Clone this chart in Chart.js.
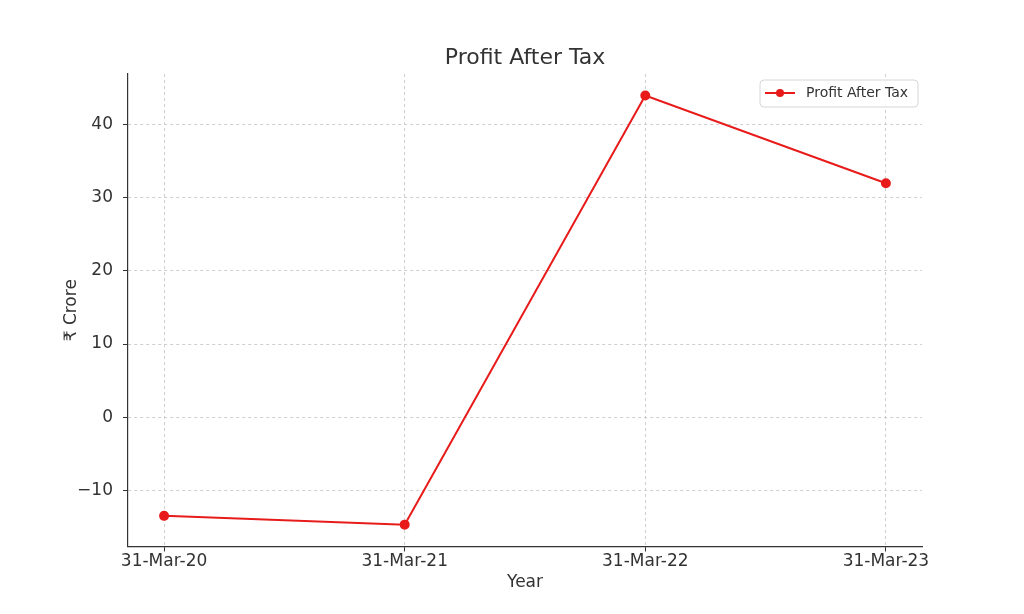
<!DOCTYPE html>
<html>
<head>
<meta charset="utf-8">
<script src="https://cdn.jsdelivr.net/npm/chart.js@4/dist/chart.umd.min.js"></script>
<style>
  html, body { margin: 0; padding: 0; background: #fff; }
  #chart { display: block; }
</style>
</head>
<body>
<canvas id="chart" width="1024" height="614"></canvas>
<script>
// Data
const years = ['31-Mar-20', '31-Mar-21', '31-Mar-22', '31-Mar-23'];
const profitAfterTax = [-13.5, -14.7, 44.0, 32.0];
const yTicks = [-10, 0, 10, 20, 30, 40];

const FONT = "'DejaVu Sans', sans-serif";
const RED = '#e81b1b';

// Title + legend drawn inside the plot like the original
const extras = {
  id: 'extras',
  afterDraw(chart){
    const ctx = chart.ctx;
    const a = chart.chartArea;
    ctx.save();

    // title
    ctx.fillStyle = '#333';
    ctx.font = "22px " + FONT;
    ctx.textAlign = 'center';
    ctx.textBaseline = 'middle';
    ctx.fillText('Profit After Tax', (a.left + a.right) / 2, 58);

    // legend box
    const x = 760, y = 80, w = 158, h = 27, r = 4;
    ctx.beginPath();
    ctx.roundRect(x, y, w, h, r);
    ctx.fillStyle = 'rgba(255,255,255,0.85)';
    ctx.fill();
    ctx.strokeStyle = '#d6d6d6';
    ctx.lineWidth = 1;
    ctx.stroke();

    ctx.beginPath();
    ctx.moveTo(765, 93);
    ctx.lineTo(795, 93);
    ctx.strokeStyle = RED;
    ctx.lineWidth = 2;
    ctx.stroke();
    ctx.beginPath();
    ctx.arc(780, 93, 4, 0, Math.PI * 2);
    ctx.fillStyle = RED;
    ctx.fill();

    ctx.fillStyle = '#333';
    ctx.font = "14px " + FONT;
    ctx.textAlign = 'left';
    ctx.fillText(chart.data.datasets[0].label, 806, 93);
    ctx.restore();
  }
};

new Chart(document.getElementById('chart'), {
  type: 'line',
  data: {
    datasets: [{
      label: 'Profit After Tax',
      data: profitAfterTax.map((v, i) => ({ x: i, y: v })),
      borderColor: RED,
      backgroundColor: RED,
      borderWidth: 2,
      pointRadius: 4,
      pointHoverRadius: 4,
      fill: false,
      tension: 0
    }]
  },
  options: {
    responsive: false,
    animation: false,
    layout: { padding: { left: 0, right: 102, top: 74, bottom: 0 } },
    plugins: {
      legend: { display: false },
      title: { display: false },
      tooltip: { enabled: false }
    },
    scales: {
      x: {
        type: 'linear',
        min: -0.15,
        max: 3.15,
        afterBuildTicks: s => { s.ticks = years.map((_, i) => ({ value: i })); },
        afterFit: s => { s.height = 67.5; },
        ticks: {
          callback: v => years[v],
          color: '#333',
          font: { family: FONT, size: 17 },
          padding: 0,
          maxRotation: 0
        },
        grid: {
          color: '#cfcfcf',
          tickLength: 5,
          tickColor: '#333',
          tickBorderDash: []
        },
        border: { display: true, color: '#333', width: 1.2, dash: [3, 3] },
        title: {
          display: true,
          text: 'Year',
          color: '#333',
          font: { family: FONT, size: 17 },
          padding: { top: 0, bottom: 21 }
        }
      },
      y: {
        min: -17.69,
        max: 46.94,
        afterBuildTicks: s => { s.ticks = yTicks.map(v => ({ value: v })); },
        afterFit: s => { s.width = 128; },
        ticks: {
          callback: v => String(v).replace('-', '\u2212'),
          color: '#333',
          font: { family: FONT, size: 17 },
          padding: 10
        },
        grid: {
          color: '#cfcfcf',
          tickLength: 5,
          tickColor: '#333',
          tickBorderDash: []
        },
        border: { display: true, color: '#333', width: 1.2, dash: [3, 3] },
        title: {
          display: true,
          text: '\u20b9 Crore',
          color: '#333',
          font: { family: FONT, size: 17 },
          padding: { top: 61, bottom: 0 }
        }
      }
    }
  },
  plugins: [extras]
});
</script>
</body>
</html>
